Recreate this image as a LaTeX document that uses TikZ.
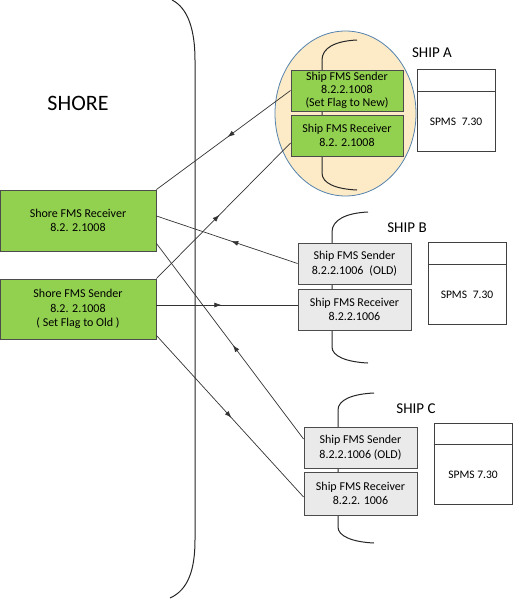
\documentclass[tikz,border=0pt]{standalone}
\usepackage{fontspec}
\setmainfont{Carlito}
\usetikzlibrary{arrows.meta,decorations.markings}

\definecolor{boxgreen}{RGB}{146,208,80}
\definecolor{boxgrey}{RGB}{234,234,234}
\definecolor{zonefill}{RGB}{253,235,200}
\definecolor{zoneline}{RGB}{84,130,173}

\tikzset{
  fms/.style={draw=black!70, line width=0.9pt, inner sep=0pt, align=center,
    font=\fontsize{12}{14.5}\selectfont},
  newbox/.style={fms, fill=boxgreen},
  oldbox/.style={fms, fill=boxgrey},
  spms/.style={draw=black!75, line width=0.9pt, minimum width=78pt, minimum height=82pt, inner sep=0pt},
  hull/.style={line width=1pt, black!85},
  link/.style={line width=0.7pt, black!80},
  midarrow/.style={link, postaction={decorate},
    decoration={markings, mark=at position #1 with {\arrow{Latex[length=7pt,width=5pt]}}}},
  title/.style={font=\fontsize{15}{18}\selectfont}
}

\begin{document}
\begin{tikzpicture}[x=1pt, y=-1pt]
    \useasboundingbox (0,0) rectangle (524,613);

    % shore side
    \draw[hull] (172,0) .. controls (188,8) and (195,30) .. (195,60) -- (195,540)
      .. controls (195,570) and (188,590) .. (170,598);
    \node[font=\fontsize{22}{26}\selectfont] (shore) at (78,103) {SHORE};

    % ship A zone
    \draw[fill=zonefill, draw=zoneline, line width=0.8pt] (345.5,113.5) ellipse [x radius=70.5, y radius=82.5];
    \draw[hull] (357,40) .. controls (335,41) and (322,48) .. (322,60) -- (322,173)
      .. controls (322,183) and (335,189) .. (357,190);
    \draw[hull] (368,212) .. controls (346,213) and (332,220) .. (332,232) -- (332,347)
      .. controls (332,356) and (346,362) .. (368,363);
    \draw[hull] (374,393) .. controls (352,394) and (338,400) .. (338,410) -- (338,527)
      .. controls (338,536) and (352,542) .. (374,543);

    % boxes
    \node[newbox, minimum width=156pt, minimum height=61pt] (shoreRx) at (78,220.5)
      {Shore FMS Receiver\\8.2. 2.1008};
    \node[newbox, minimum width=156pt, minimum height=60pt] (shoreTx) at (78,309)
      {Shore FMS Sender\\8.2. 2.1008\\( Set Flag to Old )};

    \node[newbox, minimum width=112pt, minimum height=41pt, font=\fontsize{12}{13}\selectfont] (txA) at (347,90.5)
      {Ship FMS Sender\\8.2.2.1008\\(Set Flag to New)};
    \node[newbox, minimum width=112pt, minimum height=41pt] (rxA) at (347,135.5)
      {Ship FMS Receiver\\8.2. 2.1008};
    \node[oldbox, minimum width=113pt, minimum height=41pt] (txB) at (354.5,263.5)
      {Ship FMS Sender\\8.2.2.1006\enspace(OLD)};
    \node[oldbox, minimum width=113pt, minimum height=41pt] (rxB) at (354.5,309.5)
      {Ship FMS Receiver\\8.2.2.1006};
    \node[oldbox, minimum width=113pt, minimum height=41pt] (txC) at (360.5,447.5)
      {Ship FMS Sender\\8.2.2.1006 (OLD)};
    \node[oldbox, minimum width=113pt, minimum height=43pt] (rxC) at (360.5,493.5)
      {Ship FMS Receiver\\8.2.2. 1006};

    % SPMS boxes
    \node[spms] (spmsA) at (456,110) {};
    \draw[spms] ([yshift=-23pt]spmsA.north west) -- ([yshift=-23pt]spmsA.north east);
    \node[font=\fontsize{11.5}{14}\selectfont] (verA) at (456,121.5) {SPMS\enspace7.30};
    \node[spms] (spmsB) at (467,283) {};
    \draw[spms] ([yshift=-23pt]spmsB.north west) -- ([yshift=-23pt]spmsB.north east);
    \node[font=\fontsize{11.5}{14}\selectfont] (verB) at (467,294.5) {SPMS\enspace7.30};
    \node[spms, minimum height=81pt] (spmsC) at (473,463.5) {};
    \draw[spms] ([yshift=-22pt]spmsC.north west) -- ([yshift=-22pt]spmsC.north east);
    \node[font=\fontsize{11.5}{14}\selectfont] (verC) at (473,474.5) {SPMS 7.30};

    \node[title] (shipA) at (432,53) {SHIP A};
    \node[title] (shipB) at (407,228) {SHIP B};
    \node[title] (shipC) at (416,409) {SHIP C};

    % links
    \draw[midarrow=0.47] (txA.west) -- (shoreRx.north east);
    \draw[midarrow=0.47] (shoreTx.north east) -- ([yshift=-7.5pt]rxA.west);
    \draw[midarrow=0.47] (txB.west) -- ([yshift=4.5pt]shoreRx.east);
    \draw[midarrow=0.46] ([yshift=4pt]shoreTx.east) -- ([yshift=4pt]shoreTx.east -| rxB.west);
    \draw[midarrow=0.48] ([yshift=8.5pt]txC.west) -- ([yshift=8pt]shoreRx.south east);
    \draw[midarrow=0.51] ([yshift=4pt]shoreTx.south east) -- ([yshift=-3.5pt]rxC.west);
  \end{tikzpicture}
\end{document}
